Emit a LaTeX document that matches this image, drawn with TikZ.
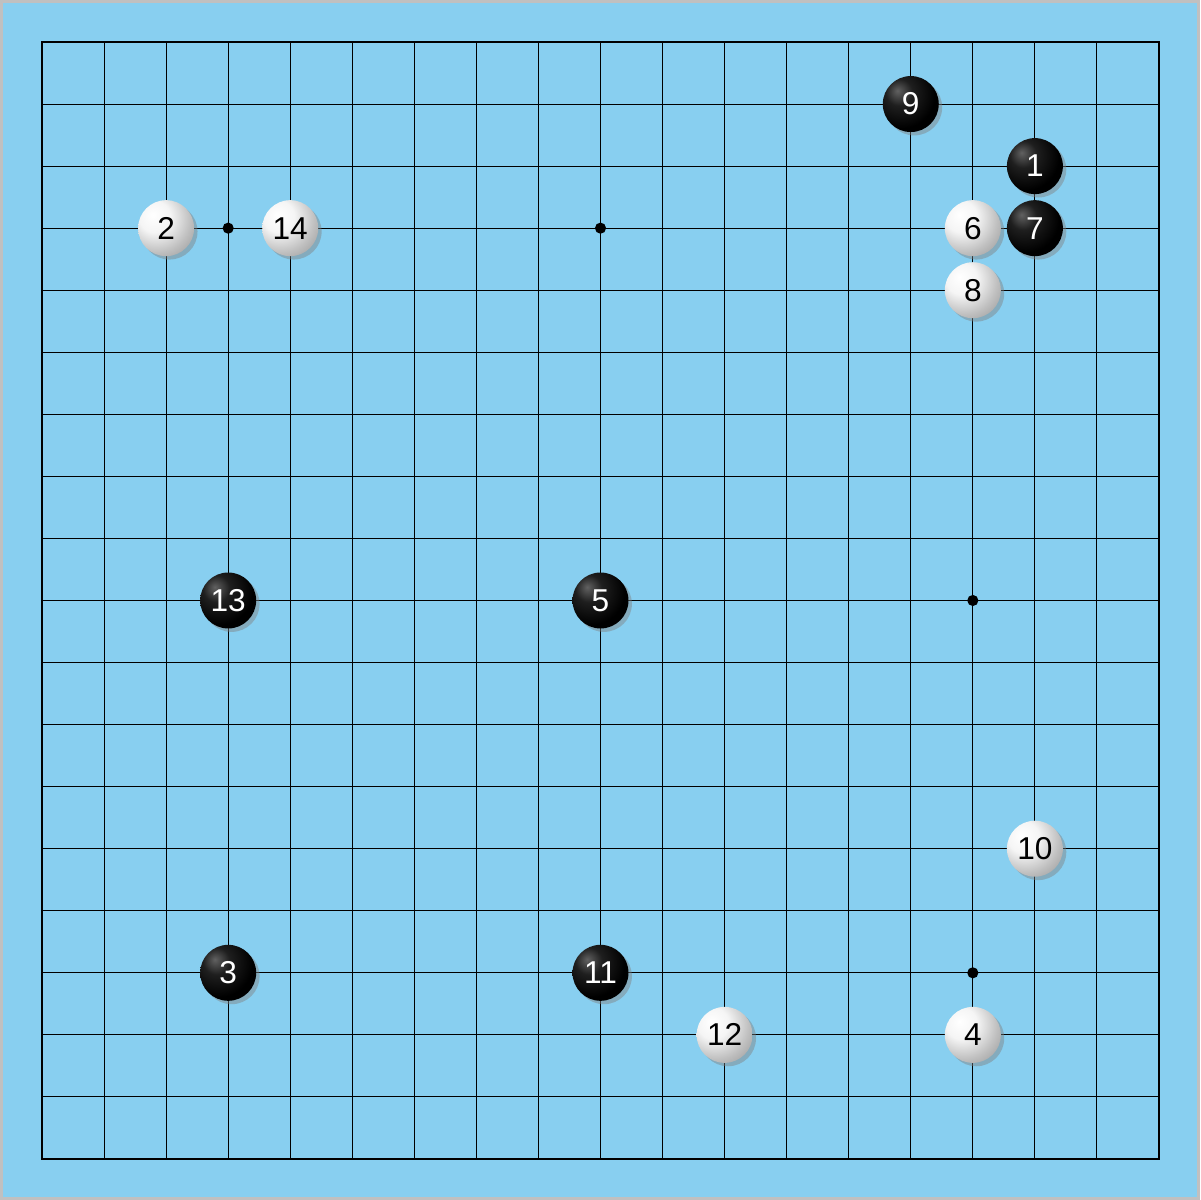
\documentclass[tikz,border=0pt]{standalone}
\usepackage{fontspec}
\newfontfamily\stonefont{Liberation Sans}
\usetikzlibrary{shadows}
\definecolor{boardblue}{RGB}{136,207,240}
\definecolor{framegray}{RGB}{192,192,192}
\pgfdeclareradialshading{whiteball}{\pgfpoint{-12bp}{12bp}}{%
  color(0bp)=(white); color(14bp)=(white!96!black); color(30bp)=(black!25);
  color(52bp)=(black!50); color(100bp)=(black!50)}
\pgfdeclareradialshading{blackball}{\pgfpoint{-12bp}{12bp}}{%
  color(0bp)=(black!62); color(12bp)=(black!88); color(30bp)=(black);
  color(100bp)=(black)}
\tikzset{
  gridline/.style={line width=0.45pt, black},
  boardedge/.style={line width=1pt, black},
  stone/.style={circle, minimum size=0.902cm, inner sep=0pt,
    font=\stonefont\fontsize{14.5}{17}\selectfont,
    drop shadow={shadow xshift=0.055cm, shadow yshift=-0.055cm, opacity=0.45}},
  bstone/.style={stone, shading=blackball, text=white},
  wstone/.style={stone, shading=whiteball, text=black}
}
\begin{document}
\begin{tikzpicture}
    % Board background with a thin gray frame
    \useasboundingbox (-0.677,-0.661) rectangle (18.661,18.677);
    \fill[boardblue] (-0.677,-0.661) rectangle (18.661,18.677);
    \draw[framegray, line width=1.4pt] (-0.65,-0.634) rectangle (18.634,18.65);

    % Make the 19x19 grid
    \draw[gridline] (0,0) grid (18,18);
    \draw[boardedge] (0,0) rectangle (18,18);

    % Star points
    \foreach \x/\y in {
        3/3, 9/3, 15/3, 3/9, 9/9, 15/9, 3/15, 9/15, 15/15
    }
    \fill (\x,\y) circle (0.09);

    % Black stones with move numbers
    \foreach \n/\x/\y in {
        1/16/16, 3/3/3, 5/9/9, 7/16/15, 9/14/17, 11/9/3, 13/3/9
    }
    \node[bstone] (s\n) at (\x,\y) {\n};

    % White stones with move numbers
    \foreach \n/\x/\y in {
        2/2/15, 4/15/2, 6/15/15, 8/15/14, 10/16/5, 12/11/2, 14/4/15
    }
    \node[wstone] (s\n) at (\x,\y) {\n};
\end{tikzpicture}
\end{document}
